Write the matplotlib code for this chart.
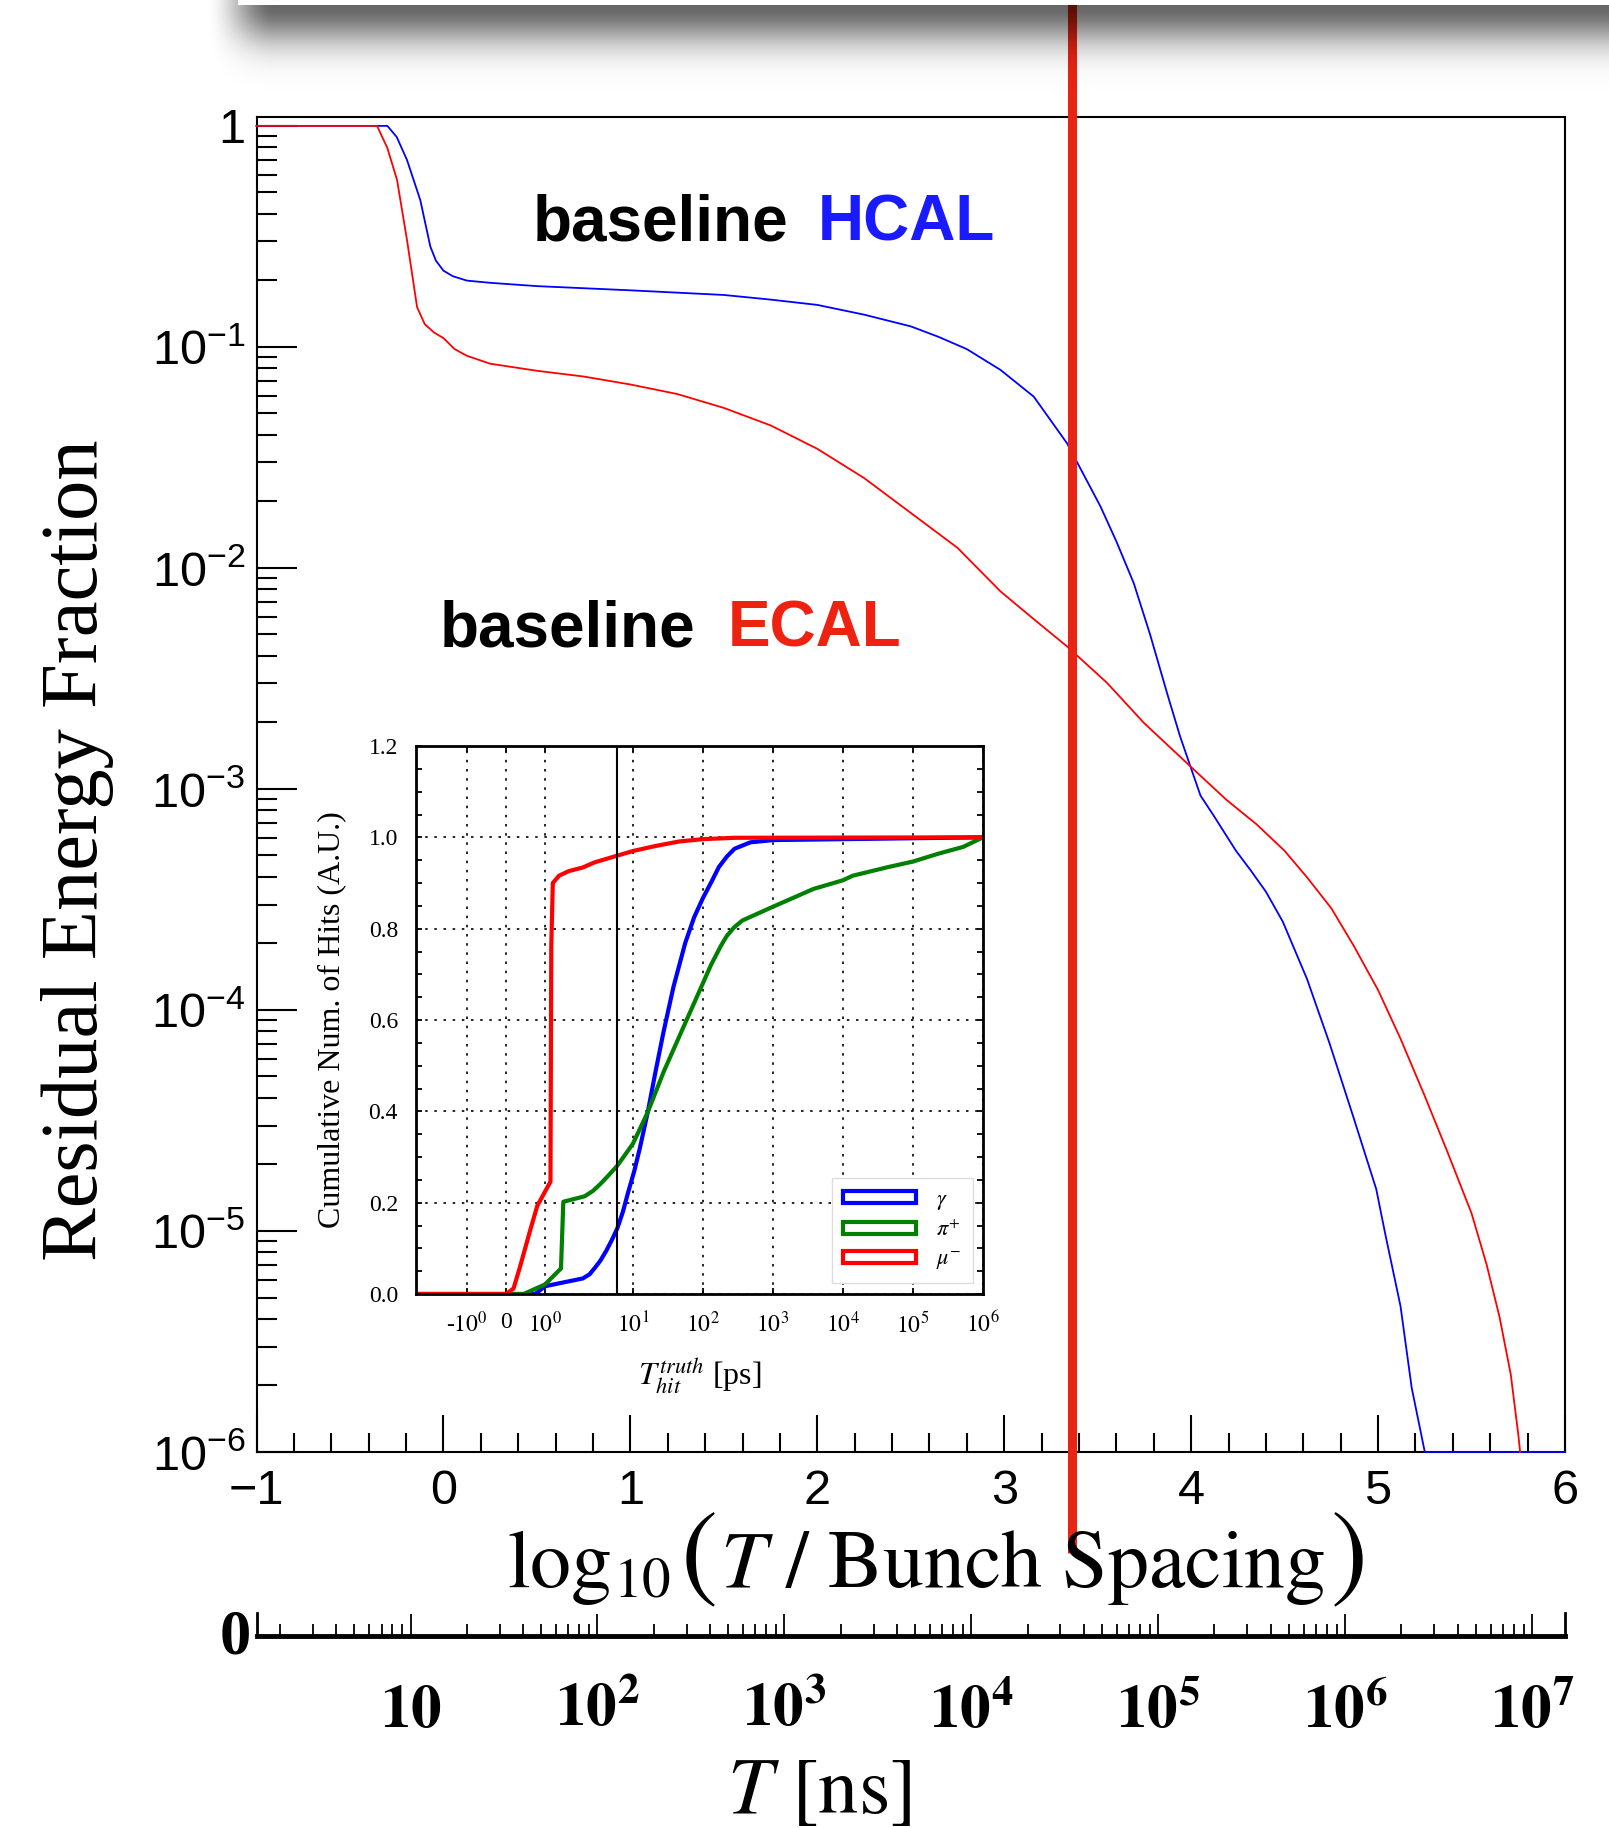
import numpy as np
import matplotlib
matplotlib.use('Agg')
import matplotlib.pyplot as plt
from matplotlib.ticker import MultipleLocator, LogLocator, NullFormatter, NullLocator
from matplotlib.patches import Patch
from matplotlib.transforms import blended_transform_factory

plt.rcParams['font.family'] = 'Liberation Sans'
plt.rcParams['mathtext.fontset'] = 'custom'
plt.rcParams['mathtext.rm'] = 'Liberation Sans'
plt.rcParams['mathtext.it'] = 'Liberation Sans:italic'
plt.rcParams['mathtext.bf'] = 'Liberation Sans:bold'

# main panel, x = log10(T / bunch spacing), values are log10(residual fraction)
hcal_x = [-1.0, -0.30, -0.25, -0.195, -0.124, -0.07, -0.04, 0.0, 0.05, 0.125, 0.25, 0.5, 1.0,
          1.5, 1.75, 2.0, 2.25, 2.5, 2.65, 2.8, 2.98, 3.158, 3.336, 3.42, 3.515, 3.6, 3.693,
          3.78, 3.871, 3.94, 3.996, 4.05, 4.12, 4.24, 4.32, 4.40, 4.49, 4.55, 4.62, 4.74, 4.87,
          4.99, 5.04, 5.12, 5.18, 5.25, 5.27, 6.0]
hcal_logy = [0.0, 0.0, -0.05, -0.154, -0.335, -0.546, -0.61, -0.655, -0.68, -0.70, -0.71, -0.725,
             -0.744, -0.765, -0.786, -0.81, -0.854, -0.907, -0.955, -1.01, -1.104, -1.225, -1.436,
             -1.57, -1.722, -1.88, -2.069, -2.30, -2.566, -2.76, -2.898, -3.03, -3.12, -3.28,
             -3.37, -3.465, -3.60, -3.72, -3.86, -4.15, -4.49, -4.81, -5.02, -5.34, -5.71, -6.0,
             -6.0, -6.0]
ecal_x = [-1.0, -0.355, -0.30, -0.248, -0.195, -0.141, -0.1, -0.05, 0.0, 0.06, 0.125, 0.25, 0.5,
          0.75, 1.0, 1.25, 1.5, 1.75, 2.0, 2.25, 2.5, 2.75, 2.98, 3.15, 3.336, 3.55, 3.746,
          3.996, 4.19, 4.35, 4.5, 4.62, 4.75, 4.87, 5.0, 5.12, 5.25, 5.37, 5.5, 5.58, 5.65, 5.71,
          5.75, 5.76]
ecal_logy = [0.0, 0.0, -0.10, -0.245, -0.516, -0.82, -0.897, -0.935, -0.96, -1.01, -1.04, -1.076,
             -1.108, -1.134, -1.17, -1.213, -1.276, -1.355, -1.461, -1.593, -1.751, -1.909, -2.106,
             -2.226, -2.355, -2.52, -2.70, -2.898, -3.05, -3.16, -3.28, -3.40, -3.54, -3.71, -3.91,
             -4.13, -4.39, -4.64, -4.92, -5.15, -5.39, -5.65, -5.92, -6.0]
main_xticks = [-1, 0, 1, 2, 3, 4, 5, 6]
main_yexp = [-6, -5, -4, -3, -2, -1, 0]
main_ylabels = ['$10^{-6}$', '$10^{-5}$', '$10^{-4}$', '$10^{-3}$', '$10^{-2}$', '$10^{-1}$', '1']
marker_x = 3.36

# inset, cumulative hits vs T_hit [ps]
gamma_x = [-3, 0.75, 1.0, 1.51, 1.97, 2.4, 2.82, 3.4, 4.18, 5.0, 6, 7.2, 8.53, 10.5, 12.6, 16.3,
           21, 27.4, 37.9, 56, 75, 100, 135, 169, 220, 283, 475, 1000, 1e4, 1e5, 1e6]
gamma_y = [0, 0, 0.017, 0.026, 0.034, 0.043, 0.056, 0.072, 0.095, 0.118, 0.144, 0.18, 0.222,
           0.27, 0.32, 0.398, 0.486, 0.574, 0.672, 0.769, 0.825, 0.867, 0.905, 0.935, 0.958,
           0.975, 0.989, 0.994, 0.996, 0.998, 1.0]
pip_x = [-3, 0.45, 1.0, 1.41, 1.47, 2.05, 2.7, 3.44, 4.5, 6, 10, 16.3, 27.4, 46, 77.4, 130,
         180, 219, 280, 367, 1000, 3793, 1e4, 1.38e4, 4.46e4, 1e5, 2.4e5, 5.2e5, 1e6]
pip_y = [0, 0, 0.021, 0.056, 0.202, 0.214, 0.226, 0.241, 0.26, 0.281, 0.329, 0.398, 0.486,
         0.564, 0.642, 0.72, 0.762, 0.784, 0.803, 0.818, 0.848, 0.887, 0.906, 0.916, 0.935,
         0.947, 0.965, 0.979, 1.0]
mum_x = [-3, 0, 0.19, 0.345, 0.6, 0.8, 1.14, 1.16, 1.2, 1.36, 1.61, 1.97, 2.82, 6, 10, 21,
         46, 100, 283, 1e6]
mum_y = [0, 0, 0.012, 0.056, 0.134, 0.193, 0.246, 0.76, 0.90, 0.916, 0.926, 0.934, 0.945,
         0.96, 0.97, 0.981, 0.991, 0.996, 0.999, 1.0]
inset_ticks = [-1, 0, 1, 10, 1e2, 1e3, 1e4, 1e5, 1e6]
inset_ticklabels = ['-$10^{0}$', '0', '$10^{0}$', '$10^{1}$', '$10^{2}$', '$10^{3}$',
                    '$10^{4}$', '$10^{5}$', '$10^{6}$']
inset_yticks = [0.0, 0.2, 0.4, 0.6, 0.8, 1.0, 1.2]
inset_cut = 6
legend_labels = [r'$\gamma$', r'$\pi^{+}$', r'$\mu^{-}$']

# pasted time axis underneath
ns_ticks = [10, 1e2, 1e3, 1e4, 1e5, 1e6, 1e7]
ns_labels = [r'$\mathbf{10}$', r'$\mathbf{10^{2}}$', r'$\mathbf{10^{3}}$', r'$\mathbf{10^{4}}$',
             r'$\mathbf{10^{5}}$', r'$\mathbf{10^{6}}$', r'$\mathbf{10^{7}}$']

W, H = 1609, 1828
fig = plt.figure(figsize=(W / 100, H / 100), dpi=100)
fig.patch.set_facecolor('white')


def box(l, t, r, b):
    return [l / W, 1 - b / H, (r - l) / W, (b - t) / H]


# ---- main plot
ax = fig.add_axes(box(256.5, 116.6, 1565, 1452))
ax.plot(hcal_x, 10.0 ** np.array(hcal_logy), color='#0000ff', lw=1.3, clip_on=False, zorder=3)
ax.plot(ecal_x, 10.0 ** np.array(ecal_logy), color='#ff0000', lw=1.3, clip_on=False, zorder=3)
ax.set_yscale('log')
ax.set_xlim(-1, 6)
ax.set_ylim(1e-6, 10 ** 0.042)
ax.set_xticks(main_xticks)
ax.xaxis.set_minor_locator(MultipleLocator(0.2))
ax.set_yticks(10.0 ** np.array(main_yexp), labels=main_ylabels)
ax.yaxis.set_minor_locator(LogLocator(10, subs=np.arange(2, 10), numticks=20))
ax.yaxis.set_minor_formatter(NullFormatter())
ax.tick_params(which='both', direction='in', top=False, right=False, width=1.5, labelsize=35)
ax.tick_params(axis='y', which='major', length=29, pad=8)
ax.tick_params(axis='y', which='minor', length=14.5)
ax.tick_params(axis='x', which='major', length=27, pad=12)
ax.tick_params(axis='x', which='minor', length=13.5)
for s in ax.spines.values():
    s.set_linewidth(1.5)

# hand drawn marker line
trans = blended_transform_factory(ax.transData, fig.transFigure)
ax.plot([marker_x, marker_x], [1 - 1553 / H, 1.0], transform=trans, color='#ea2414', lw=6.5,
        clip_on=False, solid_capstyle='butt', zorder=10)

lab = dict(fontsize=46, fontfamily='Liberation Sans', fontweight='bold', va='baseline')
fig.text(532.7 / W, 1 - 240.7 / H, 'baseline', color='black', **lab)
fig.text(817.7 / W, 1 - 240.7 / H, 'HCAL', color='#1a1aff', **lab)
fig.text(440 / W, 1 - 646.7 / H, 'baseline', color='black', **lab)
fig.text(727.7 / W, 1 - 646.7 / H, 'ECAL', color='#ee2211', **lab)

fig.text(78 / W, 1 - 850 / H, 'Residual Energy Fraction', rotation=90, fontfamily='Liberation Serif',
         fontsize=58, ha='center', va='center')
xl_base = 1 - 1587 / H
fig.text(507 / W, xl_base, r'$\log_{10}$', fontsize=59, ha='left', va='baseline',
         math_fontfamily='stix')
fig.text(698 / W, xl_base, r'$($', fontsize=80, ha='center', va='baseline', math_fontfamily='stix')
fig.text(720 / W, xl_base, r'$T\ /\ \mathrm{Bunch\ Spacing}$', fontsize=59, ha='left',
         va='baseline', math_fontfamily='stix')
fig.text(1347 / W, xl_base, r'$)$', fontsize=80, ha='center', va='baseline', math_fontfamily='stix')

# ---- inset
ai = fig.add_axes(box(416, 746, 983, 1294))
ai.set_xscale('symlog', linthresh=2, linscale=1)
ai.plot(gamma_x, gamma_y, color='#0000ff', lw=3, label=legend_labels[0])
ai.plot(pip_x, pip_y, color='#008000', lw=3, label=legend_labels[1])
ai.plot(mum_x, mum_y, color='#ff0000', lw=3, label=legend_labels[2])
ai.axvline(inset_cut, color='black', lw=1.5)
ai.set_xlim(-3, 1e6)
ai.set_ylim(0, 1.2)
ai.set_xticks(inset_ticks, labels=inset_ticklabels)
ai.xaxis.set_minor_locator(NullLocator())
ai.set_yticks(inset_yticks, labels=['%.1f' % v for v in inset_yticks])
ai.yaxis.set_minor_locator(MultipleLocator(0.05))
ai.grid(True, which='major', color='black', linestyle=(0, (1.5, 4)), lw=1.2)
ai.tick_params(which='both', direction='in', top=True, right=True, length=4.5, width=1.3,
               labelsize=17, pad=13)
for t in ai.get_xticklabels() + ai.get_yticklabels():
    t.set_fontfamily('Liberation Serif')
    t.set_math_fontfamily('stix')
for s in ai.spines.values():
    s.set_linewidth(2)
ai.set_ylabel('Cumulative Num. of Hits (A.U.)', fontfamily='Liberation Serif', fontsize=23,
              labelpad=16)
ai.set_xlabel(r'$T^{truth}_{hit}$ [ps]', fontfamily='Liberation Serif', fontsize=23, labelpad=14,
              math_fontfamily='stix')
handles = [Patch(facecolor='white', edgecolor=c, lw=3, label=l)
           for c, l in zip(['#0000ff', '#008000', '#ff0000'], legend_labels)]
leg = ai.legend(handles=handles, loc='lower right', bbox_to_anchor=(0.982, 0.02), fontsize=16,
                handlelength=3.3, handleheight=0.45, fancybox=False, edgecolor='#dddddd',
                framealpha=1, borderpad=0.5, labelspacing=0.35, handletextpad=0.9,
                borderaxespad=0)
for t in leg.get_texts():
    t.set_math_fontfamily('stix')

# ---- time axis in ns
axb = fig.add_axes(box(256.5, 1613, 1565, 1636))
axb.set_facecolor('none')
axb.set_xscale('log')
axb.set_xlim(1.5, 1.5e7)
axb.set_yticks([])
axb.spines['top'].set_visible(False)
axb.spines['bottom'].set_linewidth(3.5)
axb.spines['left'].set_linewidth(2)
axb.spines['right'].set_linewidth(2)
axb.set_xticks(ns_ticks, labels=ns_labels)
axb.xaxis.set_minor_locator(LogLocator(10, subs=np.arange(2, 10), numticks=20))
axb.xaxis.set_minor_formatter(NullFormatter())
axb.tick_params(axis='x', which='major', direction='in', length=16, width=1.3, pad=34, labelsize=44)
axb.tick_params(axis='x', which='minor', direction='in', length=8.5, width=1.3)
for t in axb.get_xticklabels():
    t.set_math_fontfamily('stix')
fig.text(235 / W, 1 - 1638 / H, '0', fontfamily='Liberation Serif', fontweight='bold',
         fontsize=45, ha='center', va='center')
fig.text(819 / W, 1 - 1792 / H, r'$T\ \mathrm{[ns]}$', fontsize=58, ha='center', va='center',
         math_fontfamily='stix')

# ---- window shadow strip at the top
sh_h = 90
sh = fig.add_axes([0, 1 - sh_h / H, 1, sh_h / H])
sh.axis('off')
yy = np.arange(sh_h)[:, None] + 0.5
xx = np.arange(W)[None, :] + 0.5
fy = np.where(yy >= 5, 0.6 * np.exp(-((yy - 5) / 38.0) ** 2), 0.6)
gx = np.clip((xx - 205) / 70.0, 0, 1)
gx = gx * gx * (3 - 2 * gx)
rgba = np.zeros((sh_h, W, 4))
rgba[..., 3] = fy * gx
bar = (yy < 5.5) & (xx >= 238)
rgba[bar] = [1, 1, 1, 1]
sh.imshow(rgba, extent=(0, W, sh_h, 0), aspect='auto', interpolation='bilinear')
sh.set_xlim(0, W)
sh.set_ylim(sh_h, 0)

fig.savefig('out.png', dpi=100)
